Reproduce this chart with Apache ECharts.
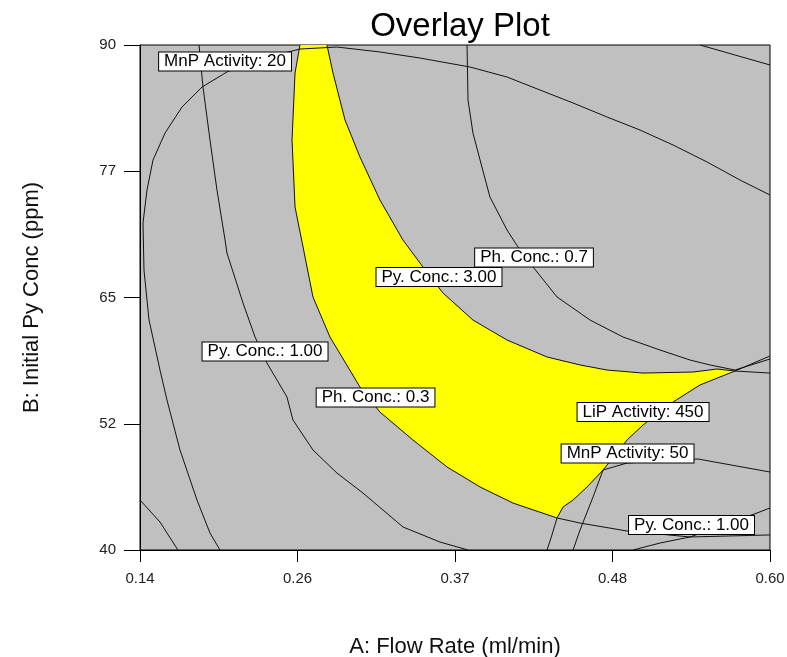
<!DOCTYPE html>
<html>
<head>
<meta charset="utf-8">
<title>Overlay Plot</title>
<script src="https://cdn.jsdelivr.net/npm/echarts@6/dist/echarts.min.js"></script>
<style>
  html, body { margin: 0; padding: 0; background: #fff; }
  #overlay-chart { width: 787px; height: 657px; }
</style>
</head>
<body>
<div id="overlay-chart"></div>
<script>
  // axis ticks (A: flow rate, B: initial Py conc)
  const xTickValues = [0.14, 0.255, 0.37, 0.485, 0.6];
  const xTickLabels = ['0.14', '0.26', '0.37', '0.48', '0.60'];
  const yTickValues = [40, 52.5, 65, 77.5, 90];
  const yTickLabels = ['40', '52', '65', '77', '90'];

  // contour lines, [flow rate, py conc]
  const mnp20 = [
    [0.1984, 40.0], [0.1911, 41.68], [0.1816, 44.95], [0.1692, 49.9], [0.1597, 54.85],
    [0.1546, 57.82], [0.1466, 62.77], [0.1429, 67.72], [0.1422, 72.38], [0.1451, 75.64],
    [0.1495, 78.61], [0.1583, 81.29], [0.1707, 83.86], [0.1853, 85.84], [0.2035, 87.33],
    [0.2276, 88.61], [0.2568, 89.6], [0.2838, 89.8], [0.3152, 89.31], [0.3444, 88.71],
    [0.381, 87.82], [0.408, 86.83], [0.4321, 85.54], [0.4562, 84.26], [0.481, 82.87],
    [0.5051, 81.58], [0.5292, 80.1], [0.554, 78.42], [0.5781, 76.63], [0.6, 75.15],
  ];
  const pyConc1Left = [
    [0.1831, 90], [0.186, 85.84], [0.1911, 80.59], [0.1962, 75.64], [0.2021, 70.69],
    [0.2035, 69.41], [0.2152, 64.46], [0.224, 61.09], [0.2327, 58.51], [0.2473, 55.15],
    [0.2517, 52.87], [0.2663, 49.9], [0.2838, 47.62], [0.3028, 45.64], [0.332, 42.28],
    [0.359, 40.79], [0.3795, 40.0],
  ];
  const ph03 = [
    [0.2568, 90], [0.2532, 87.23], [0.251, 80.59], [0.2532, 73.96], [0.2605, 69.01],
    [0.2663, 65.05], [0.2787, 61.09], [0.3006, 56.14], [0.3152, 53.66], [0.3393, 50.89],
    [0.3642, 48.22], [0.3883, 46.24], [0.4123, 44.65], [0.4445, 43.17], [0.4613, 42.67],
    [0.4956, 41.88], [0.5416, 41.29], [0.6, 41.49],
  ];
  const pyConc3 = [
    [0.2765, 90], [0.2809, 87.23], [0.2897, 82.57], [0.3006, 78.91], [0.3152, 74.65],
    [0.332, 70.69], [0.3466, 68.02], [0.3612, 65.45], [0.3831, 62.77], [0.408, 60.79],
    [0.4372, 59.11], [0.4613, 58.32], [0.481, 57.82], [0.5073, 57.52], [0.5438, 57.62],
    [0.5613, 57.92], [0.5744, 57.72], [0.6, 57.52],
  ];
  const lip450 = [
    [0.4372, 40.0], [0.4408, 41.49], [0.4445, 43.17], [0.4489, 44.26], [0.4562, 44.95],
    [0.4664, 46.24], [0.4781, 47.92], [0.4956, 50.89], [0.5073, 52.38], [0.5292, 54.65],
    [0.5489, 56.34], [0.5744, 57.72], [0.6, 59.21],
  ];
  const ph07 = [
    [0.3788, 90], [0.3795, 84.55], [0.3831, 81.29], [0.3883, 78.61], [0.3955, 74.95],
    [0.408, 71.68], [0.416, 70.0], [0.427, 68.02], [0.4445, 65.05], [0.4686, 62.77],
    [0.4927, 61.09], [0.5197, 59.8], [0.5416, 58.81], [0.5562, 58.32], [0.5744, 57.82],
    [0.6, 58.91],
  ];
  const mnp50 = [
    [0.4562, 40.0], [0.4613, 41.98], [0.4708, 45.25], [0.4781, 47.92], [0.4956, 48.61],
    [0.5474, 49.01], [0.6, 47.72],
  ];
  const pyConc1Right = [
    [0.5, 40.0], [0.5197, 40.69], [0.5416, 41.29], [0.5905, 43.66], [0.6, 44.16],
  ];
  const cornerTop = [[0.5489, 90], [0.5744, 89.01], [0.6, 88.02]];
  const cornerBottom = [[0.14, 44.95], [0.1546, 42.77], [0.1677, 40.0]];

  // feasible (yellow) window: Ph 0.3 down to the tip, LiP 450 up, Py 3.00 back to the top
  const feasibleRegion = ph03.slice(0, 14)
    .concat(lip450.slice(3, 12))
    .concat(pyConc3.slice(0, 16).reverse());

  // flag labels sitting on the contours
  const contourLabels = [
    { name: 'MnP Activity: 20', value: [0.2021, 88.37] },
    { name: 'Ph. Conc.: 0.7', value: [0.4277, 68.96] },
    { name: 'Py. Conc.: 3.00', value: [0.3583, 67.03] },
    { name: 'Py. Conc.: 1.00', value: [0.2313, 59.65] },
    { name: 'Ph. Conc.: 0.3', value: [0.312, 55.1] },
    { name: 'LiP Activity: 450', value: [0.5073, 53.66] },
    { name: 'MnP Activity: 50', value: [0.496, 49.55] },
    { name: 'Py. Conc.: 1.00', value: [0.5427, 42.48] },
  ];

  const contours = [mnp20, pyConc1Left, ph03, pyConc3, lip450, ph07, mnp50, pyConc1Right, cornerTop, cornerBottom];

  const tickLabel = (ticks, labels) => (value) => {
    let best = 0;
    ticks.forEach((t, i) => {
      if (Math.abs(t - value) < Math.abs(ticks[best] - value)) best = i;
    });
    return labels[best];
  };

  const font = '"Liberation Sans", Arial, sans-serif';

  const option = {
    animation: false,
    textStyle: { fontFamily: font },
    title: {
      text: 'Overlay Plot',
      left: 455,
      top: 5,
      textAlign: 'center',
      textStyle: { fontSize: 33, fontWeight: 'normal', color: '#000', fontFamily: font },
    },
    grid: {
      left: 140,
      right: 17,
      top: 45,
      bottom: 107,
      outerBoundsMode: 'none',
      show: true,
      backgroundColor: '#c0c0c0',
      borderColor: '#000',
      borderWidth: 1,
    },
    xAxis: {
      type: 'value',
      min: 0.14,
      max: 0.6,
      name: 'A: Flow Rate (ml/min)',
      nameLocation: 'middle',
      nameGap: 86,
      nameTextStyle: { fontSize: 22, color: '#111', fontFamily: font },
      axisLine: { lineStyle: { color: '#000', width: 1 } },
      axisTick: { customValues: xTickValues, length: 12, lineStyle: { color: '#000' } },
      axisLabel: {
        customValues: xTickValues,
        formatter: tickLabel(xTickValues, xTickLabels),
        margin: 21,
        fontSize: 15,
        color: '#222',
      },
      splitLine: { show: false },
    },
    yAxis: {
      type: 'value',
      min: 40,
      max: 90,
      name: 'B: Initial Py Conc (ppm)',
      nameLocation: 'middle',
      nameGap: 97,
      nameTextStyle: { fontSize: 22, color: '#111', fontFamily: font },
      axisLine: { show: true, lineStyle: { color: '#000', width: 1 } },
      axisTick: { show: true, customValues: yTickValues, length: 16, lineStyle: { color: '#000' } },
      axisLabel: {
        customValues: yTickValues,
        formatter: tickLabel(yTickValues, yTickLabels),
        margin: 24,
        fontSize: 15,
        color: '#222',
      },
      splitLine: { show: false },
    },
    series: [
      {
        type: 'custom',
        z: 1,
        data: [0],
        renderItem: (params, api) => ({
          type: 'polygon',
          shape: { points: feasibleRegion.map((p) => api.coord(p)) },
          style: { fill: '#ffff00', stroke: null },
        }),
      },
      ...contours.map((data) => ({
        type: 'line',
        z: 2,
        data,
        showSymbol: false,
        symbol: 'none',
        lineStyle: { color: '#111', width: 1 },
      })),
      {
        type: 'scatter',
        z: 5,
        symbolSize: 1,
        itemStyle: { color: '#fff', opacity: 1 },
        data: contourLabels,
        label: {
          show: true,
          position: 'inside',
          formatter: '{b}',
          fontSize: 17,
          lineHeight: 16,
          color: '#000',
          backgroundColor: '#fff',
          borderColor: '#000',
          borderWidth: 1,
          padding: [1, 5, 1, 5],
        },
      },
    ],
  };

  const chart = echarts.init(document.getElementById('overlay-chart'));
  chart.setOption(option);
</script>
</body>
</html>
